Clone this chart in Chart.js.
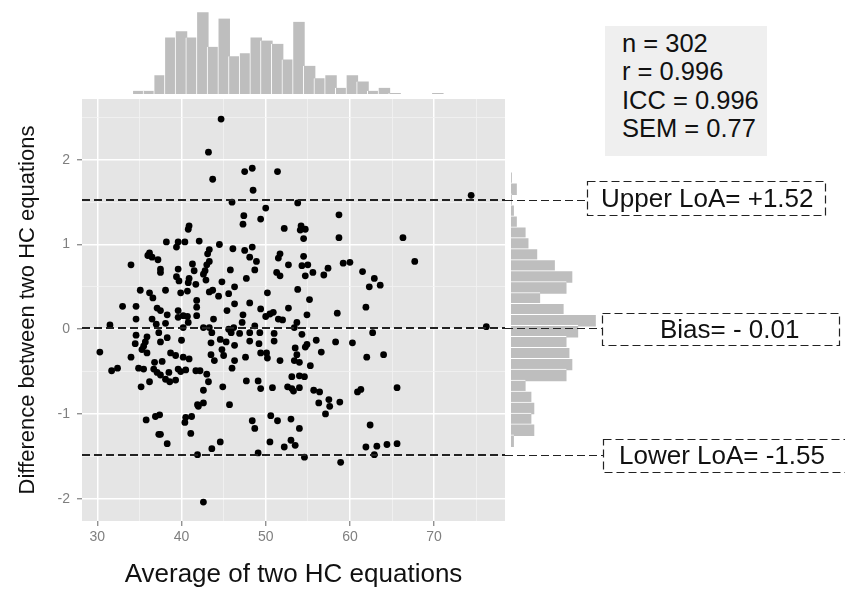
<!DOCTYPE html>
<html>
<head>
<meta charset="utf-8">
<script src="https://cdn.jsdelivr.net/npm/chart.js@4.4.1/dist/chart.umd.min.js"></script>
<style>
  body { margin: 0; background: #fff; }
  #wrap { position: relative; width: 845px; height: 590px; overflow: hidden; font-family: 'Liberation Sans', Arial, sans-serif; }
  canvas { position: absolute; left: 0; top: 0; }
  #topHist { z-index: 1; }
  #sideHist { z-index: 1; }
  #main { z-index: 2; }
  .lbl { position: absolute; z-index: 3; font-size: 26px; color: #111; white-space: nowrap; }
  #stats { position: absolute; z-index: 3; left: 605px; top: 26px; width: 145px; height: 127px;
           background: #efefef; padding: 3px 0 0 17px; font-size: 25.5px; line-height: 28.3px; color: #111; }
</style>
</head>
<body>
<div id="wrap">
  <canvas id="topHist" width="845" height="100"></canvas>
  <canvas id="sideHist" width="845" height="590"></canvas>
  <canvas id="main" width="845" height="590"></canvas>
  <div id="stats"></div>
</div>
<script>
// scatter: average (x) vs difference (y) of the two HC equations
var avgHC = [
  44.7, 43.2, 43.7, 47.5, 48.4, 51.4, 48.5, 46.0, 50.0, 47.4,
  47.3, 49.4, 52.2, 40.9, 40.8, 38.2, 39.6, 39.4, 40.4, 42.1,
  44.5, 46.1, 47.5, 48.4, 43.3, 43.1, 48.1, 48.9, 51.7, 51.5,
  51.3, 51.7, 52.7, 36.2, 36.0, 36.5, 37.2, 34.0, 37.5, 37.5,
  39.6, 41.3, 41.5, 43.3, 43.0, 42.8, 42.6, 42.9, 39.4, 39.7,
  40.9, 40.8, 41.7, 45.8, 48.7, 47.7, 44.8, 46.3,
  74.4, 53.8, 58.7, 54.2, 54.1, 54.7, 54.5, 58.7, 66.3, 54.5,
  54.3, 55.0, 54.7, 55.6, 56.9, 57.4, 59.2, 60.0, 67.7, 61.5,
  62.9, 62.3, 63.6, 53.8,
  55.2, 61.9, 58.5, 54.9, 53.7, 53.4, 76.2, 54.3, 62.7, 56.0,
  58.3, 60.3, 53.5, 54.9, 54.7, 56.6, 53.7, 53.4, 54.0, 62.0,
  64.0, 55.3, 53.1, 54.0, 54.6, 53.1, 53.3, 54.0, 55.7, 56.4,
  60.9, 61.3, 65.6, 56.3, 57.5, 57.6, 58.8, 57.1, 53.0, 54.0,
  62.4, 53.0, 53.5, 61.9, 63.2, 64.4, 65.6, 62.9, 54.6, 58.9,
  35.1, 36.2, 36.6, 38.1, 39.9, 40.7, 41.8, 41.8, 43.3, 43.7,
  44.4, 45.6, 50.2, 33.0, 34.6, 34.6, 36.5, 37.1, 37.5, 38.3,
  38.1, 37.0, 39.6, 39.6, 40.2, 40.7, 40.8, 40.2, 41.8, 43.8,
  45.4, 46.3, 47.3, 48.1, 47.2, 49.4, 50.0, 50.5, 50.9, 51.5,
  52.0, 52.7, 31.5, 42.6, 43.3, 43.6, 45.6, 46.2, 45.9, 46.9,
  48.1, 48.7, 49.3, 51.0, 34.6, 35.9, 34.5, 35.7, 35.5, 35.3,
  35.9, 37.3, 38.3, 37.5, 40.0, 43.5, 44.6, 45.3, 46.3, 44.8,
  45.0, 43.5, 43.9, 48.1, 49.2, 51.0, 49.4, 50.1, 50.2, 51.7,
  47.6, 46.3, 30.3, 34.0, 31.7, 32.4, 34.9, 35.5, 36.8, 37.7,
  36.7, 37.1, 37.5, 38.5, 38.1, 38.6, 39.3, 38.7, 39.3, 40.2,
  40.9, 39.6, 40.5, 39.9, 41.7, 42.2, 43.0, 43.2, 42.6, 44.9,
  46.0, 35.2, 36.2, 47.7, 49.1, 49.4, 50.8, 52.6, 42.6, 42.0,
  41.9, 45.7, 35.8, 36.9, 37.4, 37.3, 37.5, 38.3, 40.5, 41.2,
  40.4, 41.1, 48.4, 48.7, 50.6, 51.4, 50.5, 52.2, 44.6, 43.6,
  41.9, 49.1, 42.6
];
var diffHC = [
  2.48, 2.09, 1.77, 1.86, 1.90, 1.86, 1.64, 1.50, 1.43, 1.34,
  1.24, 1.30, 1.19, 1.22, 1.18, 1.03, 1.03, 0.97, 1.03, 1.04,
  1.00, 0.95, 0.93, 0.97, 0.94, 0.89, 0.85, 0.80, 0.89, 0.84,
  0.67, 0.63, 0.76, 0.90, 0.87, 0.85, 0.82, 0.76, 0.71, 0.67,
  0.71, 0.77, 0.69, 0.80, 0.76, 0.69, 0.65, 0.58, 0.62, 0.57,
  0.60, 0.55, 0.53, 0.70, 0.70, 0.60, 0.56, 0.50,
  1.58, 1.49, 1.35, 1.22, 1.17, 1.18, 1.07, 1.08, 1.08, 0.86,
  0.75, 0.76, 0.63, 0.67, 0.64, 0.72, 0.78, 0.79, 0.80, 0.68,
  0.60, 0.50, 0.52, 0.47,
  0.35, 0.26, 0.19, 0.17, 0.08, 0.02, 0.03, -0.06, -0.04, -0.13,
  -0.15, -0.16, -0.22, -0.18, -0.21, -0.27, -0.30, -0.37, -0.39, -0.33,
  -0.30, -0.43, -0.56, -0.55, -0.56, -0.70, -0.73, -0.69, -0.72, -0.74,
  -0.74, -0.71, -0.69, -0.87, -0.83, -0.91, -0.86, -1.00, -1.06, -1.17,
  -1.13, -1.31, -1.37, -1.39, -1.38, -1.36, -1.35, -1.48, -1.51, -1.57,
  0.46, 0.43, 0.37, 0.46, 0.43, 0.45, 0.34, 0.26, 0.44, 0.46,
  0.39, 0.42, 0.43, 0.27, 0.27, 0.12, 0.12, 0.25, 0.22, 0.17,
  0.07, 0.06, 0.22, 0.14, 0.16, 0.15, 0.08, 0.02, 0.16, 0.12,
  0.22, 0.30, 0.17, 0.31, 0.08, 0.24, 0.15, 0.18, 0.20, 0.12,
  0.11, 0.25, 0.05, 0.02, 0.02, -0.04, 0.00, 0.02, -0.04, -0.05,
  -0.04, 0.04, -0.04, -0.05, -0.07, -0.09, -0.17, -0.15, -0.20, -0.24,
  -0.28, -0.04, -0.10, -0.15, -0.13, -0.16, -0.12, -0.15, -0.19, -0.24,
  -0.31, -0.30, -0.37, -0.14, -0.17, -0.14, -0.28, -0.28, -0.34, -0.37,
  -0.33, -0.37, -0.27, -0.33, -0.49, -0.46, -0.46, -0.47, -0.39, -0.38,
  -0.47, -0.51, -0.54, -0.51, -0.59, -0.62, -0.60, -0.28, -0.31, -0.33,
  -0.35, -0.47, -0.48, -0.50, -0.49, -0.49, -0.53, -0.62, -0.72, -0.68,
  -0.46, -0.68, -0.62, -0.61, -0.61, -0.70, -0.69, -0.68, -0.87, -0.91,
  -0.89, -0.89, -1.07, -1.03, -1.01, -1.24, -1.24, -1.35, -1.04, -1.03,
  -1.10, -1.23, -1.08, -1.17, -1.02, -1.08, -1.33, -1.39, -1.33, -1.41,
  -1.48, -1.46, -2.04
];

// marginal histogram of the averages (bin centres, counts)
var topBins = [31.25, 32.77, 34.29, 35.82, 37.34, 38.86, 40.38, 41.90, 43.43, 44.95,
               46.47, 47.99, 49.51, 51.04, 52.56, 54.08, 55.60, 57.12, 58.65, 60.17,
               61.69, 63.21, 64.73, 66.26, 67.78, 69.30, 70.82, 72.34, 73.87];
var topCounts = [1, 1, 6, 18, 20, 18, 26, 15, 24, 12,
                 13, 18, 17, 16, 11, 23, 9, 5, 6, 2,
                 6, 4, 1, 2, 0.3, 0, 0, 0, 0.3];

// marginal histogram of the differences
var sideBins = [2.040, 1.889, 1.738, 1.587, 1.436, 1.285, 1.135, 0.984, 0.833, 0.682,
                0.531, 0.380, 0.229, 0.079, -0.072, -0.223, -0.374, -0.525, -0.676, -0.827,
                -0.977, -1.128, -1.279, -1.430, -1.581];
var sideCounts = [0.3, 2, 0.3, 1, 2, 5, 6, 9, 15, 21,
                  19, 10, 18, 29, 23, 19, 20, 21, 19, 5,
                  7, 8, 7, 8, 1];

// limits of agreement
var loaLines = [1.52, 0.01, -1.49];
var loaLabels = ["Upper LoA= +1.52", "Bias= - 0.01", "Lower LoA= -1.55"];
var statLines = ["n = 302", "r = 0.996", "ICC = 0.996", "SEM = 0.77"];

var xTickLabels = [30, 40, 50, 60, 70];
var yTickLabels = [-2, -1, 0, 1, 2];
var xRange = [28.18, 78.42];
var yRange = [-2.263, 2.717];

// where the dashed label boxes sit (page pixels)
var loaBoxes = [
    { left: 587, top: 181, width: 238, height: 34, pad: 14 },
    { left: 602, top: 313, width: 237, height: 32, pad: 58 },
    { left: 603, top: 439, width: 300, height: 33, pad: 16 }
];

Chart.defaults.font.family = "'Liberation Sans', Arial, sans-serif";

function isMajor(v, list) {
    for (var i = 0; i < list.length; i++) {
        if (Math.abs(list[i] - v) < 1e-6) return true;
    }
    return false;
}

function buildPoints() {
    var pts = [];
    var n = Math.min(avgHC.length, diffHC.length);
    for (var i = 0; i < n; i++) {
        pts.push({ x: avgHC[i], y: diffHC[i] });
    }
    return pts;
}

function pairUp(a, b, aKey, bKey) {
    var out = [];
    for (var i = 0; i < a.length; i++) {
        var o = {};
        o[aKey] = a[i];
        o[bKey] = b[i];
        out.push(o);
    }
    return out;
}

var panelPlugin = {
    id: 'panel',
    beforeDraw: function (chart) {
        var a = chart.chartArea, ctx = chart.ctx;
        ctx.save();
        ctx.fillStyle = '#e5e5e5';
        ctx.fillRect(a.left, a.top, a.right - a.left, a.bottom - a.top);
        ctx.restore();
    },
    afterDatasetsDraw: function (chart) {
        var a = chart.chartArea, ctx = chart.ctx, ys = chart.scales.y;
        ctx.save();
        ctx.strokeStyle = '#222';
        ctx.setLineDash([8, 4]);
        for (var i = 0; i < loaLines.length; i++) {
            var py = Math.round(ys.getPixelForValue(loaLines[i]));
            var b = loaBoxes[i];
            ctx.lineWidth = 1.8;
            ctx.beginPath();
            ctx.moveTo(a.left, py);
            ctx.lineTo(a.right, py);
            ctx.stroke();
            ctx.lineWidth = 1.2;
            ctx.beginPath();
            ctx.moveTo(a.right, py + 0.5);
            ctx.lineTo(b.left, py + 0.5);
            ctx.stroke();
            ctx.strokeRect(b.left + 0.5, b.top + 0.5, b.width, b.height);
        }
        ctx.restore();
    }
};

function gridOpts(list) {
    return {
        color: function (c) { return isMajor(c.tick.value, list) ? '#ffffff' : '#f3f3f3'; },
        lineWidth: function (c) { return isMajor(c.tick.value, list) ? 1.5 : 0.8; },
        tickColor: function (c) { return isMajor(c.tick.value, list) ? '#7f7f7f' : 'rgba(0,0,0,0)'; },
        tickLength: 5,
        tickWidth: 1.2
    };
}

// main scatter
new Chart(document.getElementById('main'), {
    type: 'scatter',
    data: {
        datasets: [{
            data: buildPoints(),
            backgroundColor: '#000',
            borderWidth: 0,
            pointRadius: 3.4
        }]
    },
    options: {
        responsive: false,
        animation: false,
        layout: { padding: { left: 0, top: 99, right: 340, bottom: 0 } },
        plugins: { legend: { display: false }, tooltip: { enabled: false } },
        scales: {
            x: {
                type: 'linear', min: xRange[0], max: xRange[1],
                afterFit: function (s) { s.height = 69; },
                border: { display: false },
                grid: gridOpts(xTickLabels),
                ticks: {
                    stepSize: 5, includeBounds: false, autoSkip: false, maxRotation: 0,
                    color: '#7f7f7f', font: { size: 14 }, padding: 3,
                    callback: function (v) { return isMajor(v, xTickLabels) ? String(v) : ''; }
                },
                title: {
                    display: true, text: 'Average of two HC equations', color: '#111',
                    font: { size: 26 }, padding: { top: 0, bottom: 0 }
                }
            },
            y: {
                type: 'linear', min: yRange[0], max: yRange[1],
                afterFit: function (s) { s.width = 82; },
                border: { display: false },
                grid: gridOpts(yTickLabels),
                ticks: {
                    stepSize: 0.5, includeBounds: false, autoSkip: false,
                    color: '#7f7f7f', font: { size: 14 }, padding: 7,
                    callback: function (v) { return isMajor(v, yTickLabels) ? String(Math.round(v)) : ''; }
                },
                title: {
                    display: true, text: 'Difference between two HC equations', color: '#111',
                    font: { size: 22 }, padding: { top: 15, bottom: 0 }
                }
            }
        }
    },
    plugins: [panelPlugin]
});

// top marginal histogram
new Chart(document.getElementById('topHist'), {
    type: 'bar',
    data: {
        datasets: [{
            data: pairUp(topBins, topCounts, 'x', 'y'),
            backgroundColor: '#bebebe',
            borderColor: '#ffffff',
            borderWidth: { left: 1, right: 1, top: 0, bottom: 0 },
            borderSkipped: false,
            barThickness: 12.8
        }]
    },
    options: {
        responsive: false,
        animation: false,
        layout: { padding: { left: 82, right: 340, top: 6, bottom: 6 } },
        plugins: { legend: { display: false }, tooltip: { enabled: false } },
        scales: {
            x: { type: 'linear', min: xRange[0], max: xRange[1], display: false },
            y: { type: 'linear', min: 0, max: 28, display: false }
        }
    }
});

// right marginal histogram
new Chart(document.getElementById('sideHist'), {
    type: 'bar',
    data: {
        datasets: [{
            data: pairUp(sideCounts, sideBins, 'x', 'y'),
            backgroundColor: '#bebebe',
            borderColor: '#ffffff',
            borderWidth: { top: 1, bottom: 1, left: 0, right: 0 },
            borderSkipped: false,
            barThickness: 12.8
        }]
    },
    options: {
        indexAxis: 'y',
        responsive: false,
        animation: false,
        layout: { padding: { left: 511, right: 217, top: 99, bottom: 69 } },
        plugins: { legend: { display: false }, tooltip: { enabled: false } },
        scales: {
            x: { type: 'linear', min: 0, max: 40, display: false },
            y: { type: 'linear', min: yRange[0], max: yRange[1], display: false }
        }
    }
});

// text boxes
var wrap = document.getElementById('wrap');
for (var i = 0; i < loaLabels.length; i++) {
    var b = loaBoxes[i];
    var d = document.createElement('div');
    d.className = 'lbl';
    d.style.left = (b.left + b.pad) + 'px';
    d.style.top = b.top + 'px';
    d.style.height = b.height + 'px';
    d.style.lineHeight = b.height + 'px';
    d.textContent = loaLabels[i];
    wrap.appendChild(d);
}
document.getElementById('stats').innerHTML = statLines.join('<br>');
</script>
</body>
</html>
